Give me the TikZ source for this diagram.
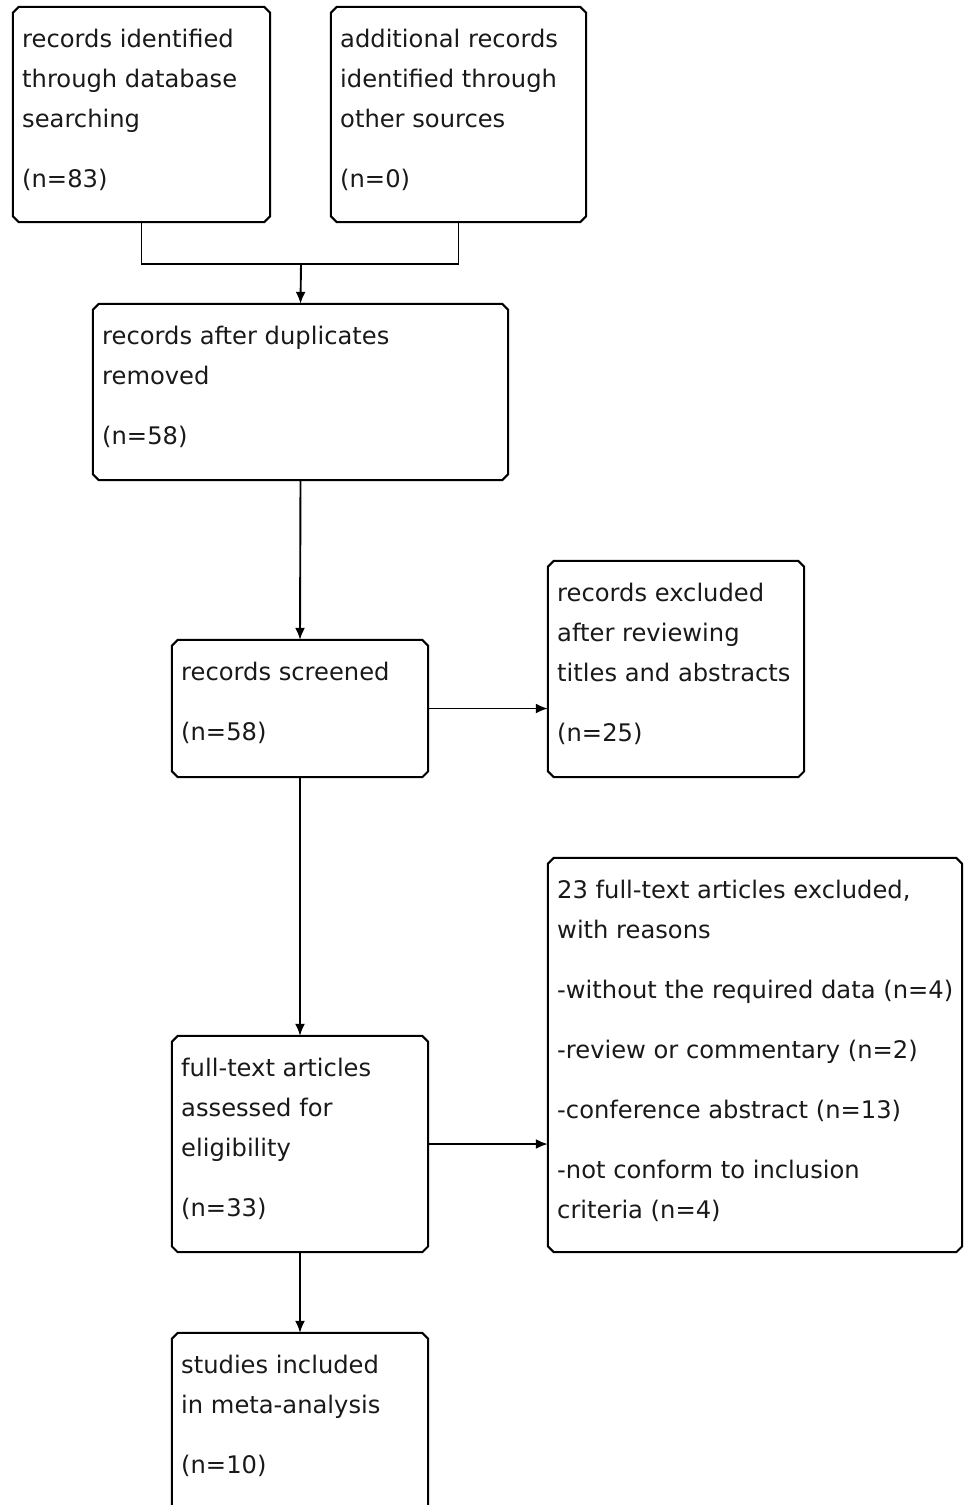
\documentclass[tikz,border=0pt]{standalone}
\usepackage{fontspec}
\setmainfont{DejaVu Sans}
\usetikzlibrary{arrows.meta}
\tikzset{
  box/.style={rectangle, draw=none, inner sep=0pt},
  frame/.style={draw=black, line width=2pt, line join=miter},
  lbl/.style={anchor=north west, inner sep=0pt, align=left, text=black!90,
    font=\fontsize{24.2}{40}\selectfont},
  conn/.style={line width=1.9pt, draw=black},
  arr/.style={conn, -{Latex[length=12pt,width=10pt]}}
}
\newcommand{\mkbox}[5]{%
  \node[box, minimum width={#4-#2}, minimum height={#5-#3}] (#1) at ({(#2+#4)/2},{(#3+#5)/2}) {};
  \draw[frame] ([xshift=6pt]#1.north west) -- ([xshift=-6pt]#1.north east)
    -- ([yshift=-6pt]#1.north east) -- ([yshift=6pt]#1.south east)
    -- ([xshift=-6pt]#1.south east) -- ([xshift=6pt]#1.south west)
    -- ([yshift=6pt]#1.south west) -- ([yshift=-6pt]#1.north west) -- cycle;}
\begin{document}
\begin{tikzpicture}[x=1pt,y=-1pt]
\useasboundingbox (0,0) rectangle (965,1505);
\begin{scope}
\clip (0,0) rectangle (965,1505);
\mkbox{b1}{13}{7}{270}{222}
\mkbox{b2}{331}{7}{586}{222}
\mkbox{b3}{93}{304}{508}{480}
\mkbox{b4}{172}{640}{428}{777}
\mkbox{b5}{548}{561}{804}{777}
\mkbox{b6}{172}{1036}{428}{1252}
\mkbox{b7}{548}{858}{962}{1252}
\mkbox{b8}{172}{1333}{428}{1530}

\node[lbl] (t1) at (22,22) {\rule{0pt}{25pt}records identified\\through database\\searching\\[20pt](n=83)};
\node[lbl] (t2) at (340,22) {\rule{0pt}{25pt}additional records\\identified through\\other sources\\[20pt](n=0)};
\node[lbl] (t3) at (102,319) {\rule{0pt}{25pt}records after duplicates\\removed\\[20pt](n=58)};
\node[lbl] (t4) at (181,655) {\rule{0pt}{25pt}records screened\\[20pt](n=58)};
\node[lbl] (t5) at (557,576) {\rule{0pt}{25pt}records excluded\\after reviewing\\titles and abstracts\\[20pt](n=25)};
\node[lbl] (t6) at (181,1051) {\rule{0pt}{25pt}full-text articles\\assessed for\\eligibility\\[20pt](n=33)};
\node[lbl] (t7) at (557,873) {\rule{0pt}{25pt}23 full-text articles excluded,\\with reasons\\[20pt]-without the required data (n=4)\\[20pt]-review or commentary (n=2)\\[20pt]-conference abstract (n=13)\\[20pt]-not conform to inclusion\\criteria (n=4)};
\node[lbl] (t8) at (181,1348) {\rule{0pt}{25pt}studies included\\in meta-analysis\\[20pt](n=10)};

\coordinate (j) at (301,264);
\draw[conn] (b1.south) |- (j) -| (b2.south);
\draw[arr] (j) -- (b3.north);
\draw[arr] (b3.south) -- (b4.north);
\draw[arr] (b4.east) -- (b4.east -| b5.west);
\draw[arr] (b4.south) -- (b6.north);
\draw[arr] (b6.east) -- (b6.east -| b7.west);
\draw[arr] (b6.south) -- (b8.north);
\end{scope}
\end{tikzpicture}
\end{document}
